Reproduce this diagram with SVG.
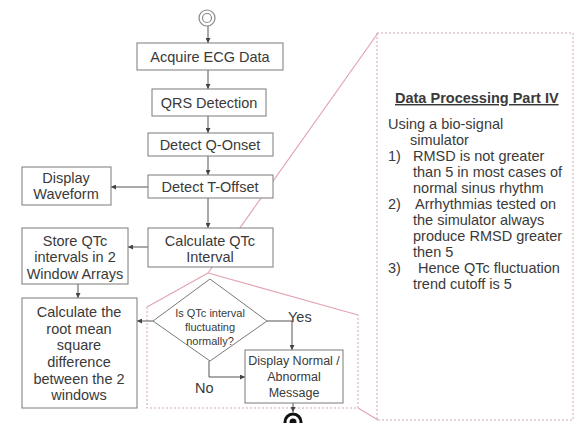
<svg xmlns="http://www.w3.org/2000/svg" width="579" height="423" viewBox="0 0 579 423">
<defs>
<style>
.box{fill:#fff;stroke:#7a7a7a;stroke-width:1}
.t{font-family:"Liberation Sans",Arial,sans-serif;font-size:14.5px;fill:#3a3a3a}
.c{text-anchor:middle}
.s{font-size:11px}
.m{font-size:12.5px}
.b{font-weight:bold;text-decoration:underline}
.ln{fill:none;stroke:#555;stroke-width:1}
.pk{fill:none;stroke:#e2a4b0;stroke-width:1.2}
.pd{fill:none;stroke:#cfa9b0;stroke-width:1;stroke-dasharray:2 2}
</style>
<marker id="ah" viewBox="0 0 8 8" refX="8" refY="4" markerWidth="5" markerHeight="5" orient="auto">
<path d="M0,0 L8,4 L0,8 z" fill="#444"/>
</marker>
</defs>
<rect width="579" height="423" fill="#fff"/>
<g id="callout">
<line class="pk" x1="208" y1="273" x2="378" y2="33"/>
<line class="pk" x1="208" y1="273" x2="147" y2="307"/>
<line class="pk" x1="208" y1="273" x2="358" y2="315"/>
<polyline class="pd" points="147,307 147,408 358,408 358,315"/>
<line class="pk" x1="358" y1="408" x2="378" y2="420"/>
<rect class="pd" x="377" y="33" width="196" height="387"/>
</g>
<g id="connectors">
<line class="ln" x1="208" y1="25" x2="208" y2="43" marker-end="url(#ah)"/>
<line class="ln" x1="208" y1="70" x2="208" y2="89" marker-end="url(#ah)"/>
<line class="ln" x1="208" y1="116" x2="208" y2="133" marker-end="url(#ah)"/>
<line class="ln" x1="208" y1="156" x2="208" y2="175" marker-end="url(#ah)"/>
<line class="ln" x1="148" y1="187" x2="111" y2="187" marker-end="url(#ah)"/>
<line class="ln" x1="208" y1="198" x2="208" y2="228" marker-end="url(#ah)"/>
<line class="ln" x1="148" y1="247" x2="128" y2="247" marker-end="url(#ah)"/>
<line class="ln" x1="78" y1="284" x2="78" y2="298" marker-end="url(#ah)"/>
<line class="ln" x1="153" y1="321" x2="137" y2="321" marker-end="url(#ah)"/>
<polyline class="ln" points="267,321 292,321 292,350" marker-end="url(#ah)"/>
<polyline class="ln" points="209,361 209,377 245,377" marker-end="url(#ah)"/>
<line class="ln" x1="293" y1="403" x2="293" y2="412" marker-end="url(#ah)"/>
<text class="t" x="288" y="322">Yes</text>
<text class="t" x="195" y="393">No</text>
</g>
<g id="start">
<circle cx="207" cy="18" r="8" fill="#fff" stroke="#888" stroke-width="1.2"/>
<circle cx="207" cy="18" r="4.5" fill="#fff" stroke="#888" stroke-width="1.2"/>
</g>
<g id="acquire">
<rect class="box" x="137" y="43" width="146" height="27"/>
<text class="t c" x="210" y="62">Acquire ECG Data</text>
</g>
<g id="qrs">
<rect class="box" x="152" y="89" width="114" height="27"/>
<text class="t c" x="209" y="108">QRS Detection</text>
</g>
<g id="qonset">
<rect class="box" x="148" y="133" width="125" height="23"/>
<text class="t c" x="210" y="150">Detect Q-Onset</text>
</g>
<g id="toffset">
<rect class="box" x="148" y="175" width="125" height="23"/>
<text class="t c" x="210" y="192">Detect T-Offset</text>
</g>
<g id="display-waveform">
<rect class="box" x="22" y="167" width="89" height="38"/>
<text class="t c" x="66" y="183">Display</text>
<text class="t c" x="66" y="199">Waveform</text>
</g>
<g id="calc-qtc">
<rect class="box" x="148" y="228" width="125" height="39"/>
<text class="t c" x="210" y="246">Calculate QTc</text>
<text class="t c" x="210" y="262">Interval</text>
</g>
<g id="store">
<rect class="box" x="22" y="228" width="106" height="56"/>
<text class="t c" x="75" y="246">Store QTc</text>
<text class="t c" x="75" y="262">intervals in 2</text>
<text class="t c" x="75" y="279">Window Arrays</text>
</g>
<g id="rmsd">
<rect class="box" x="22" y="298" width="115" height="110"/>
<text class="t c" x="79" y="317">Calculate the</text>
<text class="t c" x="79" y="334">root mean</text>
<text class="t c" x="79" y="350">square</text>
<text class="t c" x="79" y="367">difference</text>
<text class="t c" x="79" y="384">between the 2</text>
<text class="t c" x="79" y="400">windows</text>
</g>
<g id="decision">
<polygon class="box" points="210,279 267,321 210,361 153,321"/>
<text class="t c s" x="210" y="317">Is QTc interval</text>
<text class="t c s" x="210" y="331">fluctuating</text>
<text class="t c s" x="210" y="345">normally?</text>
</g>
<g id="display-msg">
<rect class="box" x="245" y="350" width="98" height="53"/>
<text class="t c m" x="294" y="365">Display Normal /</text>
<text class="t c m" x="294" y="381">Abnormal</text>
<text class="t c m" x="294" y="397">Message</text>
</g>
<g id="end">
<circle cx="293" cy="422" r="8" fill="#fff" stroke="#111" stroke-width="3"/>
<circle cx="293" cy="422" r="3.5" fill="#111"/>
</g>
<g id="note">
<text class="t b" x="395" y="103">Data Processing Part IV</text>
<text class="t" x="388" y="129">Using a bio-signal</text>
<text class="t" x="410" y="145">simulator</text>
<text class="t" x="388" y="161">1)</text>
<text class="t" x="413" y="161">RMSD is not greater</text>
<text class="t" x="413" y="177">than 5 in most cases of</text>
<text class="t" x="413" y="193">normal sinus rhythm</text>
<text class="t" x="388" y="209">2)</text>
<text class="t" x="415" y="209">Arrhythmias tested on</text>
<text class="t" x="413" y="225">the simulator always</text>
<text class="t" x="413" y="241">produce RMSD greater</text>
<text class="t" x="413" y="257">then 5</text>
<text class="t" x="388" y="273">3)</text>
<text class="t" x="418" y="273">Hence QTc fluctuation</text>
<text class="t" x="413" y="289">trend cutoff is 5</text>
</g>
</svg>
